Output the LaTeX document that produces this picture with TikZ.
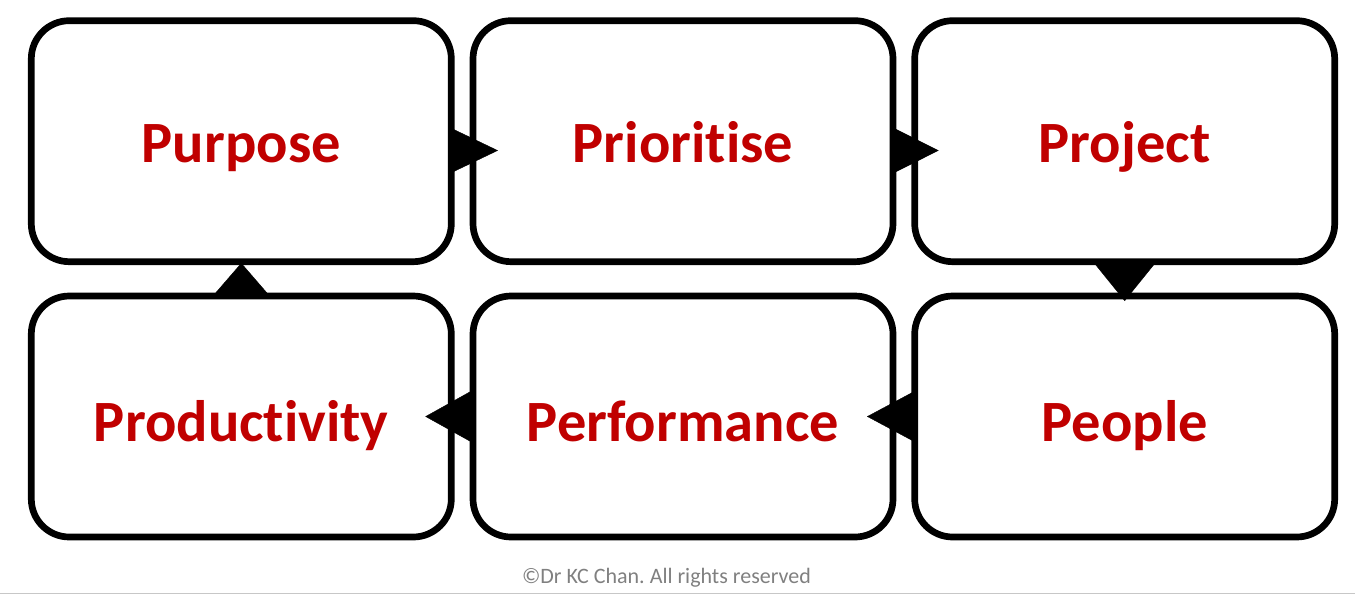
\documentclass[tikz,border=0pt]{standalone}
\usepackage{fontspec}
\setmainfont{Carlito}[Ligatures=NoCommon]
\usepackage{xcolor}
\usepackage{tikz}
\usetikzlibrary{calc,positioning,arrows.meta}

\definecolor{stepred}{HTML}{C00000}

\begin{document}
\begin{tikzpicture}[align=center,
    stepbox/.style={draw, line width=6.7pt, rounded corners=38pt, outer sep=0pt,
        minimum width=420pt, minimum height=241pt, text=stepred,
        text height=42pt, text depth=0pt,
        font=\bfseries\fontsize{58.5}{66}\selectfont},
    lowbox/.style={stepbox, text height=50pt},
    flow/.style={line width=0.4pt, fill=black}]

    \useasboundingbox (0,0) rectangle (1355pt,-595pt);

    \node [stepbox] (purpose) at (241.3pt,-141.2pt) {Purpose};
    \node [stepbox, right=21.7pt of purpose] (prioritise) {Prioritise};
    \node [stepbox, right=21.7pt of prioritise] (project) {Project};

    \node [lowbox, below=34.3pt of purpose] (productivity) {Productivity};
    \node [lowbox, right=21.7pt of productivity] (performance) {Performance};
    \node [lowbox, right=21.7pt of performance] (people) {People};

    \draw[flow, -{Triangle[length=47pt, width=45pt]}, shorten >=-25pt]
        ([yshift=-9.3pt]purpose.east) -- ([yshift=-9.3pt]prioritise.west);
    \draw[flow, -{Triangle[length=45pt, width=45pt]}, shorten >=-24pt]
        ([yshift=-9.3pt]prioritise.east) -- ([yshift=-9.3pt]project.west);
    \draw[flow, -{Triangle[length=39pt, width=63pt]}, shorten >=-5pt]
        (project.south) -- (people.north);
    \draw[flow, -{Triangle[length=45pt, width=48pt]}, shorten >=-26pt]
        (people.west) -- (performance.east);
    \draw[flow, -{Triangle[length=45pt, width=50pt]}, shorten >=-26pt]
        (performance.west) -- (productivity.east);
    \draw[flow, -{Triangle[length=33pt, width=57pt]}, shorten >=1.3pt]
        (productivity.north) -- (purpose.south);

    % footer
    \node [text=black!50, font=\frenchspacing\fontsize{22}{26}\selectfont] (credit) at (666.5pt,-578pt) {©Dr KC Chan. All rights reserved};
    \draw[black!22, line width=1.5pt] (0,-593.5pt) -- (1355pt,-593.5pt);

\end{tikzpicture}
\end{document}
